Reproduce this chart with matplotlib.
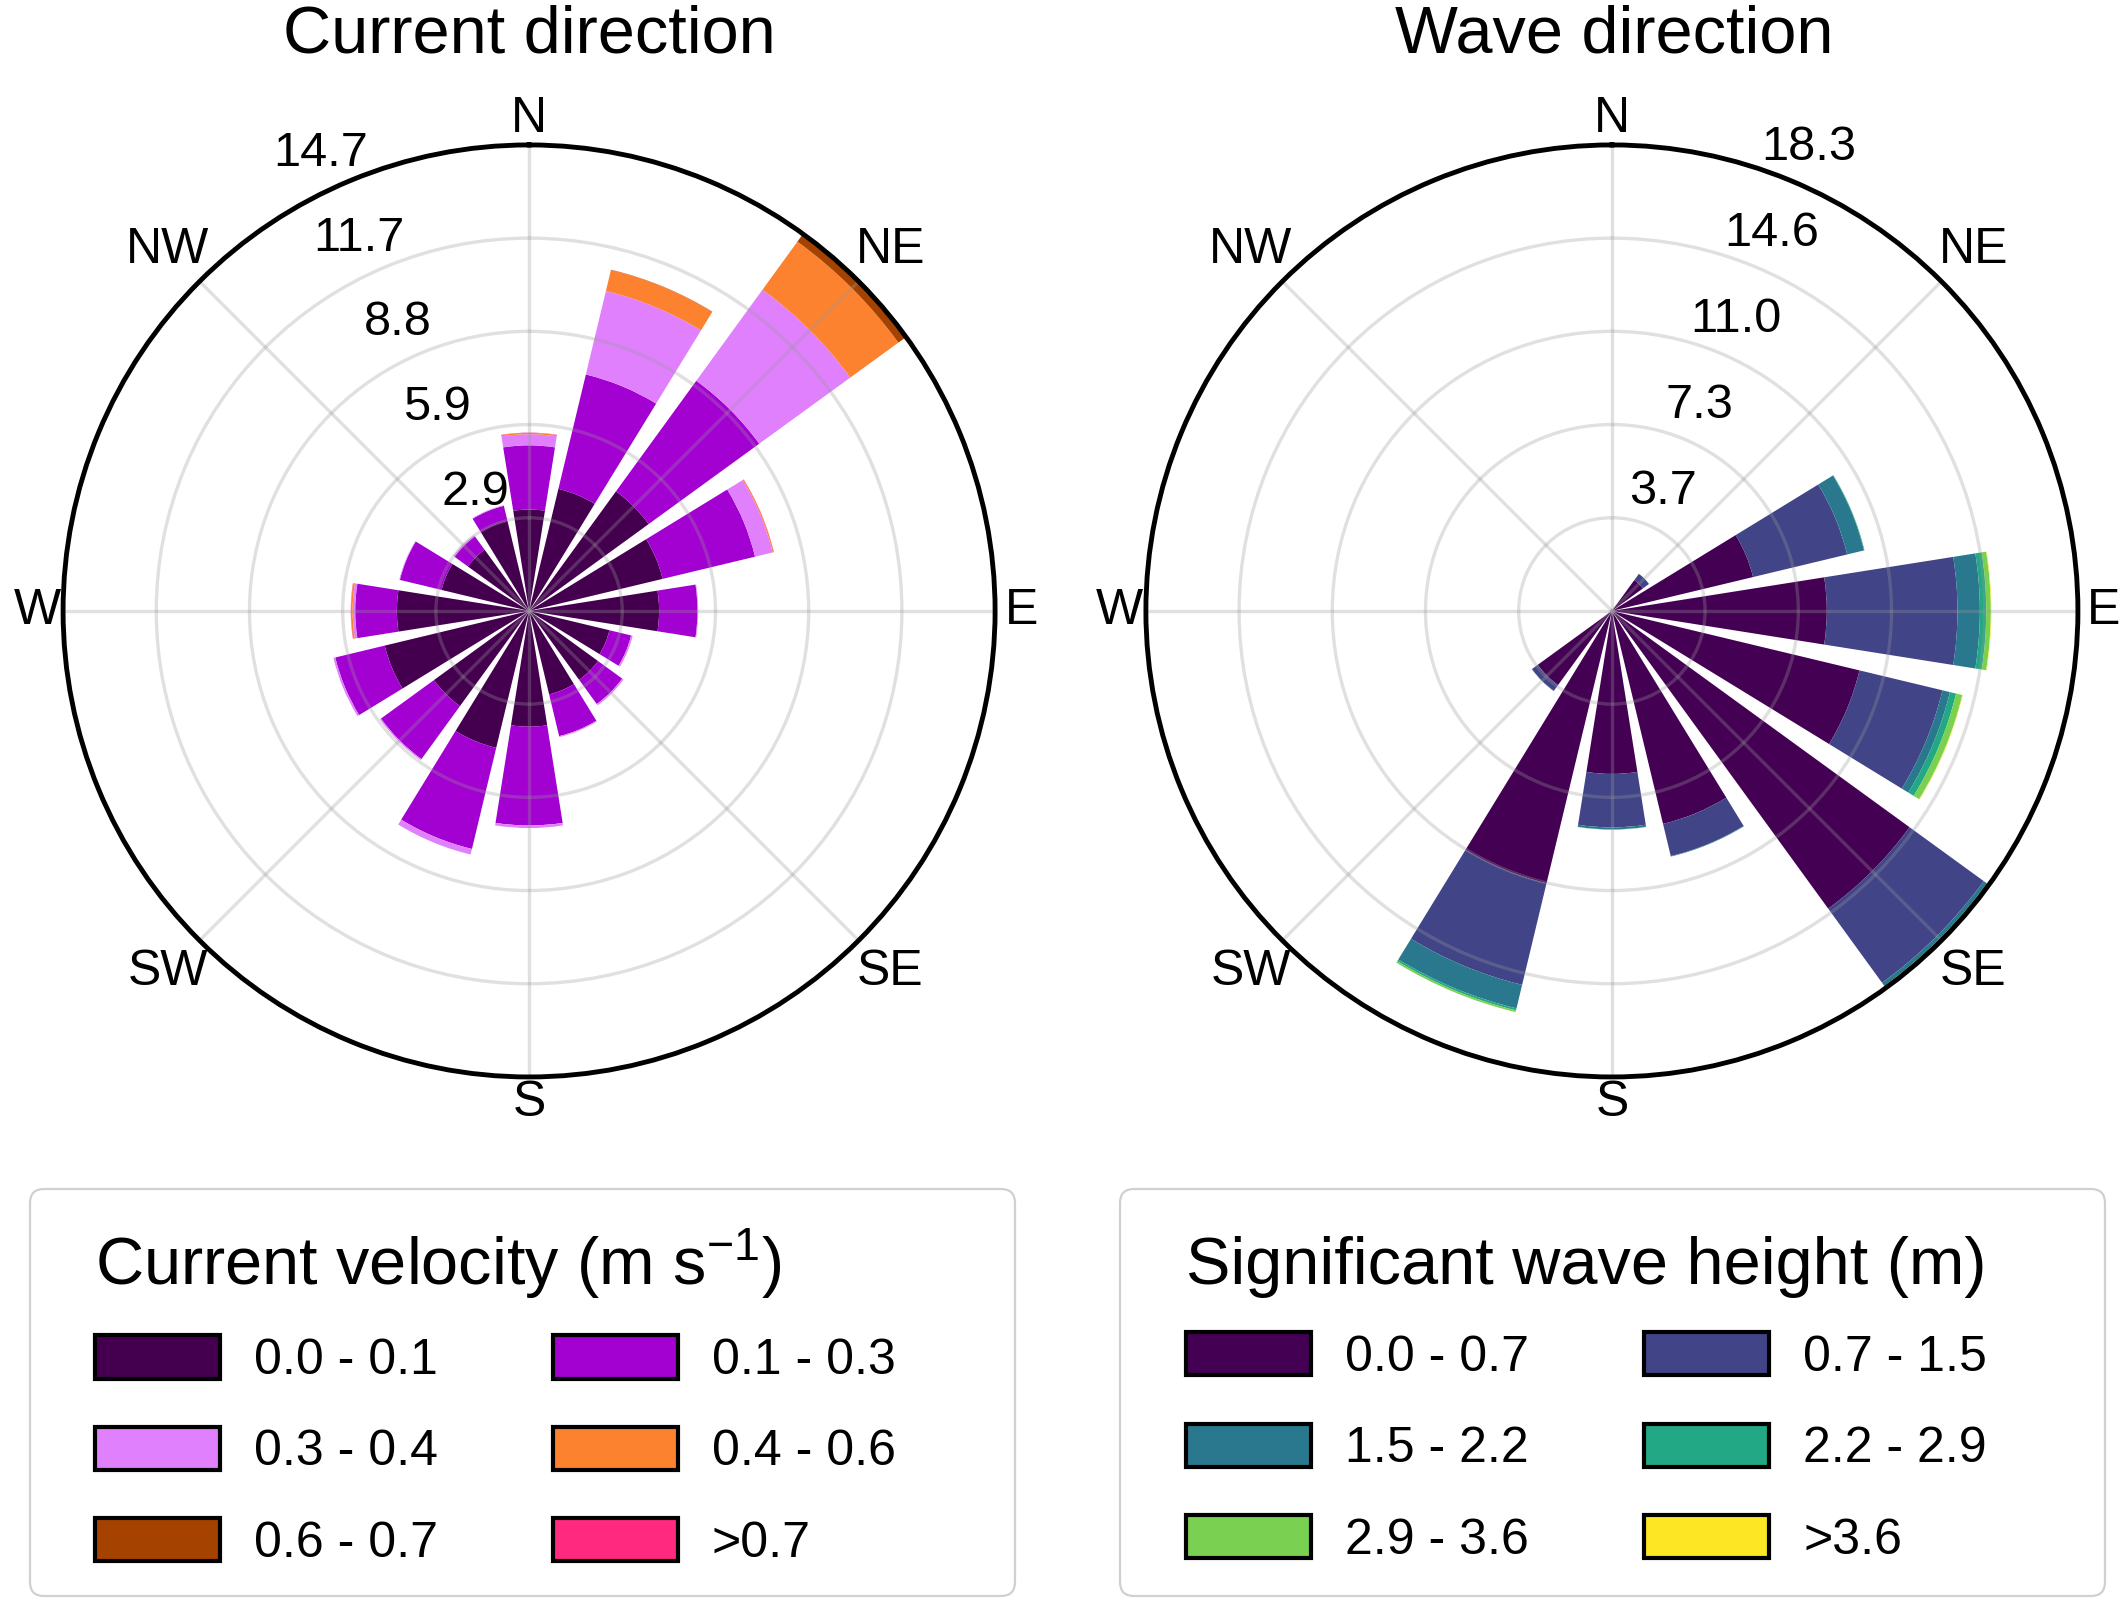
import numpy as np
import matplotlib
matplotlib.use("Agg")
import matplotlib.pyplot as plt
from matplotlib.patches import Patch, FancyBboxPatch
from matplotlib.transforms import ScaledTranslation

plt.rcParams['font.family'] = ['Liberation Sans', 'DejaVu Sans']
plt.rcParams['mathtext.fontset'] = 'custom'
plt.rcParams['mathtext.rm'] = 'Liberation Sans'
plt.rcParams['mathtext.default'] = 'regular'

# ---------------- data ----------------
directions = ['N', 'NNE', 'NE', 'ENE', 'E', 'ESE', 'SE', 'SSE',
              'S', 'SSW', 'SW', 'WSW', 'W', 'WNW', 'NW', 'NNW']
compass_labels = ['N', 'NE', 'E', 'SE', 'S', 'SW', 'W', 'NW']

# Current direction: frequency (%) per velocity bin (stack segments)
current_bins = ['0.0 - 0.1', '0.1 - 0.3', '0.3 - 0.4', '0.4 - 0.6', '0.6 - 0.7', '>0.7']
cur_0 = [3.19, 3.95, 4.65, 4.32, 4.09, 2.60, 2.68, 2.70, 3.64, 4.43, 3.70, 4.67, 4.16, 2.83, 2.38, 2.92]
cur_1 = [2.02, 3.70, 4.30, 2.99, 1.21, 0.70, 0.94, 1.35, 3.11, 3.27, 2.06, 1.60, 1.31, 1.35, 0.52, 0.48]
cur_2 = [0.35, 2.70, 3.54, 0.57, 0.02, 0.05, 0.05, 0.03, 0.08, 0.18, 0.04, 0.06, 0.08, 0.02, 0.04, 0.02]
cur_3 = [0.04, 0.68, 1.87, 0.03, 0.00, 0.00, 0.00, 0.00, 0.00, 0.00, 0.00, 0.00, 0.05, 0.00, 0.00, 0.00]
cur_4 = [0.00, 0.01, 0.30, 0.00, 0.00, 0.00, 0.00, 0.00, 0.00, 0.00, 0.00, 0.00, 0.00, 0.00, 0.00, 0.00]
cur_5 = [0.01, 0.00, 0.00, 0.01, 0.00, 0.00, 0.00, 0.00, 0.00, 0.00, 0.00, 0.00, 0.01, 0.00, 0.00, 0.00]
current_colors = ['#44004f', '#a300d2', '#e080fc', '#fd8230', '#a64200', '#ff2a7f']

# Wave direction: frequency (%) per significant wave height bin
wave_bins = ['0.0 - 0.7', '0.7 - 1.5', '1.5 - 2.2', '2.2 - 2.9', '2.9 - 3.6', '>3.6']
wav_0 = [0.00, 0.00, 1.50, 5.70, 8.44, 10.00, 14.45, 8.60, 6.40, 11.00, 3.60, 0.00, 0.00, 0.00, 0.00, 0.00]
wav_1 = [0.00, 0.00, 0.30, 3.80, 5.13, 3.35, 3.60, 1.30, 2.10, 4.10, 0.28, 0.00, 0.00, 0.00, 0.00, 0.00]
wav_2 = [0.00, 0.00, 0.00, 0.68, 0.88, 0.30, 0.15, 0.02, 0.08, 0.95, 0.01, 0.00, 0.00, 0.00, 0.00, 0.00]
wav_3 = [0.00, 0.00, 0.00, 0.02, 0.25, 0.25, 0.07, 0.00, 0.01, 0.08, 0.00, 0.00, 0.00, 0.00, 0.00, 0.00]
wav_4 = [0.00, 0.00, 0.00, 0.00, 0.18, 0.25, 0.03, 0.00, 0.00, 0.07, 0.00, 0.00, 0.00, 0.00, 0.00, 0.00]
wav_5 = [0.00, 0.00, 0.00, 0.00, 0.02, 0.02, 0.00, 0.00, 0.00, 0.00, 0.00, 0.00, 0.00, 0.00, 0.00, 0.00]
wave_colors = ['#440154', '#414487', '#2a788e', '#22a884', '#7ad151', '#fde725']

# ---------------- figure ----------------
fig = plt.figure(figsize=(21.24, 16.05), dpi=100)
ax1 = fig.add_axes([0.0297, 0.329, 0.4388, 0.5807], projection='polar')
ax2 = fig.add_axes([0.5395, 0.329, 0.4388, 0.5807], projection='polar')


def offset(ax, dist_in, ang_deg):
    a = np.deg2rad(ang_deg)
    return ax.transData + ScaledTranslation(dist_in * np.sin(a), dist_in * np.cos(a),
                                            fig.dpi_scale_trans)


def rose(ax, series, colors, rlabel_angle):
    n = len(directions)
    theta = np.deg2rad(np.arange(n) * 360.0 / n)
    width = 0.8 * 2 * np.pi / n
    data = np.array(series, dtype=float)
    bottom = np.zeros(n)
    for vals, col in zip(data, colors):
        ax.bar(theta, vals, width=width, bottom=bottom, color=col,
               linewidth=0, align='center', zorder=1)
        bottom = bottom + vals
    rmax = bottom.max()
    ax.set_theta_zero_location('N')
    ax.set_theta_direction(-1)
    ax.set_ylim(0, rmax)
    radii = np.linspace(0, rmax, 6)[1:]
    ax.set_yticks(radii)
    ax.set_yticklabels([])
    for r in radii:
        ax.text(np.deg2rad(rlabel_angle), r, f'{r:.1f}', fontsize=35,
                ha='center', va='center', zorder=10, clip_on=False,
                transform=offset(ax, 0.37, rlabel_angle))
    angs = np.arange(0, 360, 45)
    ax.set_xticks(np.deg2rad(angs))
    ax.set_xticklabels([])
    for ang, lab in zip(angs, compass_labels):
        d = 0.26 if ang % 90 == 0 else 0.45
        ax.text(np.deg2rad(ang), rmax, lab, fontsize=36, ha='center', va='center',
                clip_on=False, transform=offset(ax, d, ang))
    ax.grid(True, color='#999999', alpha=0.3, linewidth=2.4)
    ax.spines['polar'].set_linewidth(3.5)
    ax.spines['polar'].set_color('black')


rose(ax1, [cur_0, cur_1, cur_2, cur_3, cur_4, cur_5], current_colors, -24.5)
rose(ax2, [wav_0, wav_1, wav_2, wav_3, wav_4, wav_5], wave_colors, 23)

fig.text(0.249, 0.978, 'Current direction', ha='center', va='center', fontsize=48)
fig.text(0.760, 0.978, 'Wave direction', ha='center', va='center', fontsize=48)

# ---------------- legends ----------------
order = [0, 2, 4, 1, 3, 5]


def add_legend(labels, colors, title, frame_x, content_x, top_y):
    frame = FancyBboxPatch((frame_x, 0.09), 9.85, 4.07,
                           boxstyle='round,pad=0,rounding_size=0.14',
                           transform=fig.dpi_scale_trans,
                           facecolor='white', edgecolor='#d0d0d0', linewidth=1.6)
    fig.patches.append(frame)
    handles = [Patch(facecolor=colors[i], edgecolor='black', linewidth=3) for i in order]
    labs = [labels[i] for i in order]
    leg = fig.legend(handles, labs, title=title, ncol=2, loc='upper left',
                     bbox_to_anchor=(content_x, top_y), bbox_transform=fig.transFigure,
                     frameon=False, fontsize=36, title_fontsize=48,
                     borderpad=0, borderaxespad=0, handlelength=2.5, handleheight=0.95,
                     handletextpad=0.68, columnspacing=2.3, labelspacing=0.85,
                     alignment='left')
    try:
        leg._legend_box.sep = 25
    except Exception:
        pass
    return leg


add_legend(current_bins, current_colors, 'Current velocity (m s$^{-1}$)', 0.30, 0.0445, 0.2361)
add_legend(wave_bins, wave_colors, 'Significant wave height (m)', 11.20, 0.5585, 0.2302)

fig.savefig('out.png', dpi=100, facecolor='white')
